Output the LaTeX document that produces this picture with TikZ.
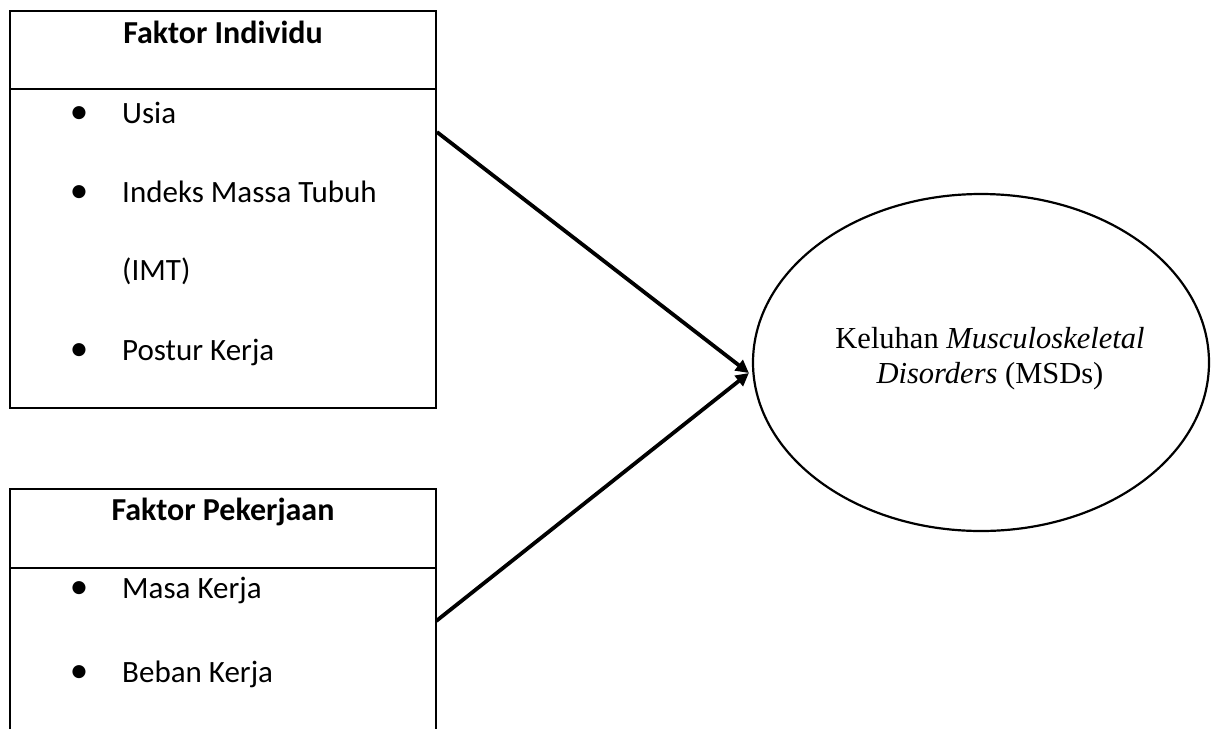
\documentclass[tikz,border=0pt]{standalone}
\usepackage{fontspec}
\setmainfont{Liberation Serif}
\newfontfamily\calibri{Carlito}
\usetikzlibrary{shapes.geometric,arrows.meta}

\tikzstyle{faktorbox} = [rectangle, inner sep=0pt, minimum width=426pt]
\tikzstyle{judul} = [anchor=base, inner sep=0pt, font=\calibri\fontsize{32}{38}\selectfont\bfseries]
\tikzstyle{butir} = [anchor=base west, inner sep=0pt, font=\calibri\fontsize{31}{37}\selectfont]
\tikzstyle{titik} = [anchor=base, inner sep=0pt, font=\calibri\fontsize{37}{40}\selectfont]
\tikzstyle{panah} = [line width=3.8pt, -{Triangle[length=13pt,width=13pt]}]

\begin{document}
\begin{tikzpicture}[x=1pt,y=-1pt]
\useasboundingbox (0,0) rectangle (1219,729);
% kotak faktor individu
\node [faktorbox, draw, line width=1.8pt, minimum height=397pt] (indiv) at (223,209.5) {};
\draw [line width=1.8pt] ([yshift=-79pt]indiv.north west) -- ([yshift=-79pt]indiv.north east);
\node [judul] (judulindiv) at (223,43) {Faktor Individu};
\node [titik] (t1) at (79,123) {•};
\node [butir] (usia) at (122,123) {Usia};
\node [titik] (t2) at (79,202) {•};
\node [butir] (imt) at (122,202) {Indeks Massa Tubuh};
\node [butir] (imt2) at (122,280) {(IMT)};
\node [titik] (t3) at (79,360) {•};
\node [butir] (postur) at (122,360) {Postur Kerja};
% kotak faktor pekerjaan (terpotong di bawah)
\node [faktorbox, minimum height=240pt] (pekerjaan) at (223,609) {};
\draw [line width=1.8pt] (pekerjaan.south west) -- (pekerjaan.north west)
  -- (pekerjaan.north east) -- (pekerjaan.south east);
\draw [line width=1.8pt] ([yshift=-79.5pt]pekerjaan.north west) -- ([yshift=-79.5pt]pekerjaan.north east);
\node [judul] (judulkerja) at (223,520) {Faktor Pekerjaan};
\node [titik] (t4) at (79,598) {•};
\node [butir] (masa) at (122,598) {Masa Kerja};
\node [titik] (t5) at (79,682) {•};
\node [butir] (beban) at (122,682) {Beban Kerja};
% keluhan MSDs
\node [ellipse, draw, line width=2.2pt, minimum width=456pt, minimum height=337pt,
  inner sep=0pt] (msd) at (981,362.5) {};
\node [align=center, inner sep=0pt, font=\fontsize{30.5}{35}\selectfont] (msdteks)
  at ([xshift=9pt,yshift=4pt]msd.center) {Keluhan \textit{Musculoskeletal}\\ \textit{Disorders} (MSDs)};
\coordinate (indiv-out) at ([yshift=77.5pt]indiv.east);
\coordinate (pekerjaan-out) at ([yshift=-12pt]pekerjaan.east);
\coordinate (msd-in) at ([xshift=-3pt,yshift=-10.5pt]msd.west);
\draw [panah] (indiv-out) -- (msd-in);
\draw [panah] (pekerjaan-out) -- (msd-in);
\end{tikzpicture}
\end{document}
